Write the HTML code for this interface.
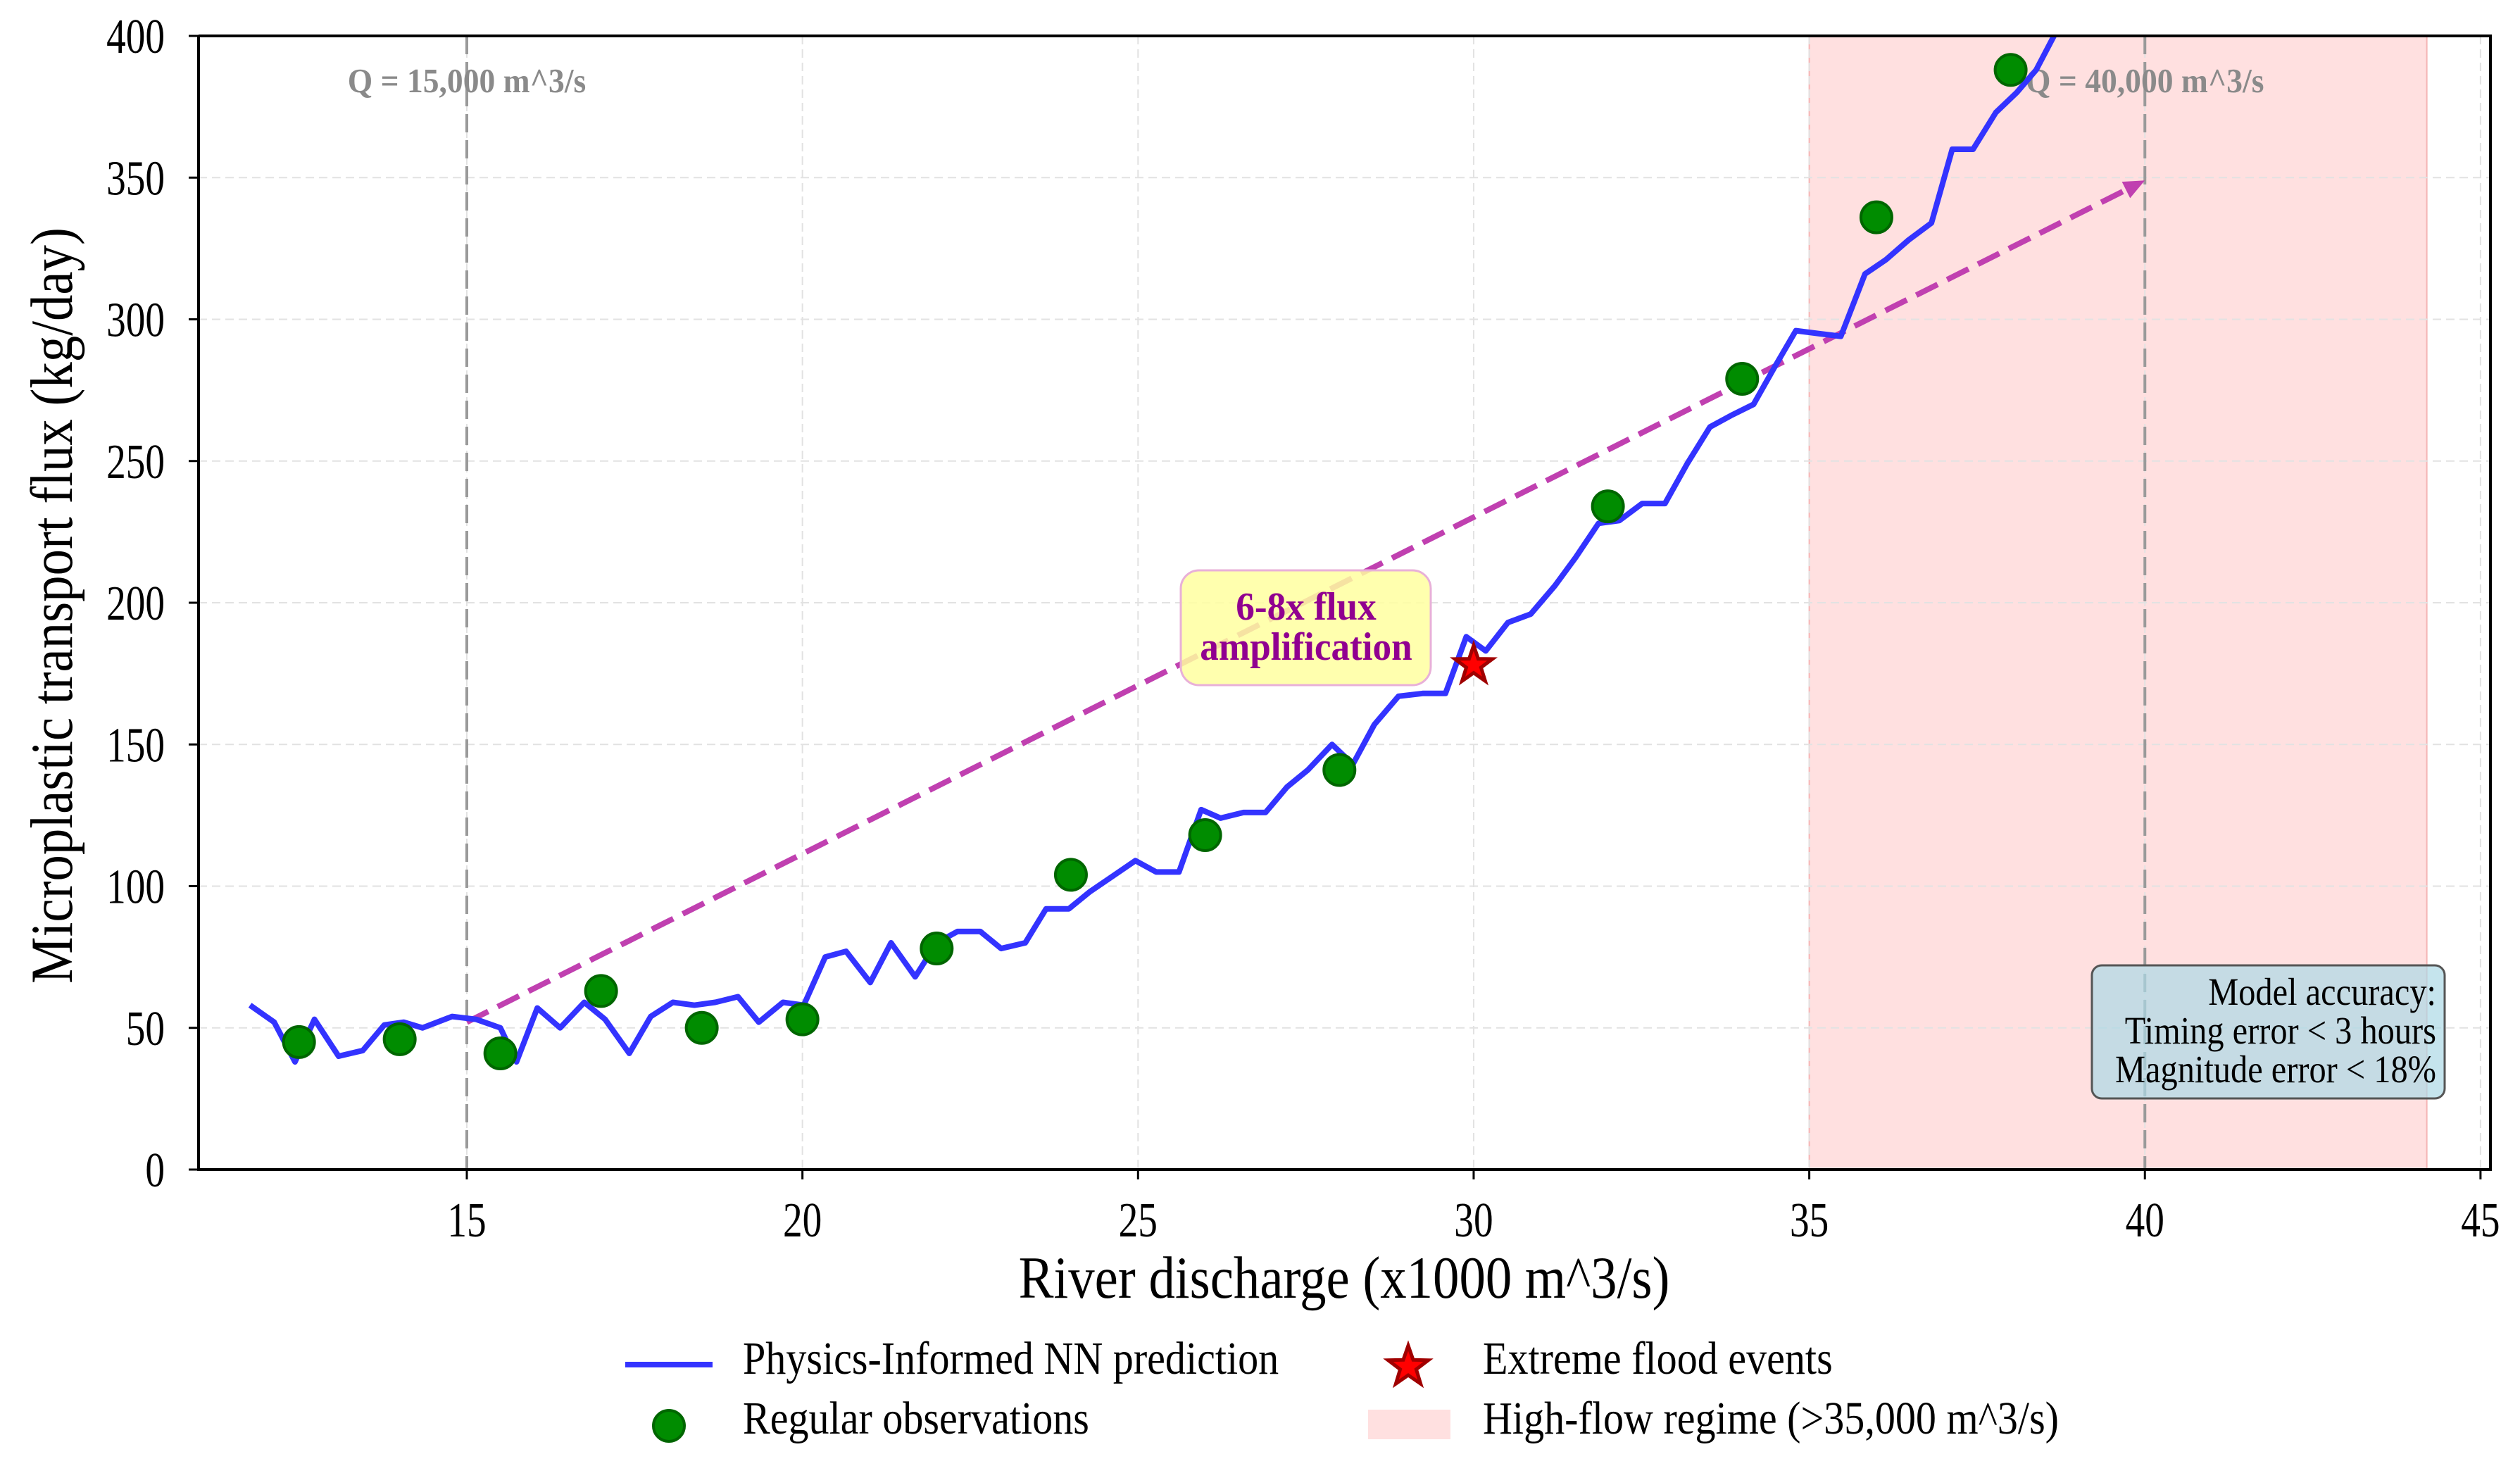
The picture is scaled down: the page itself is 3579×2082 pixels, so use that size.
<!DOCTYPE html>
<html><head><meta charset="utf-8"><style>
html,body{margin:0;padding:0;background:#fff;}
svg{display:block;font-family:"Liberation Serif",serif;}
</style></head><body>
<svg id="chart" width="3579" height="2082" viewBox="0 0 3579 2082" xmlns="http://www.w3.org/2000/svg">
<g id="layer"></g>
</svg>
<script>
const xTicks = [15, 20, 25, 30, 35, 40, 45];
const yTicks = [0, 50, 100, 150, 200, 250, 300, 350, 400];
const predX = [11.77,12.13,12.44,12.73,13.09,13.45,13.77,14.06,14.34,14.78,15.14,15.50,15.74,16.05,16.39,16.75,17.06,17.42,17.74,18.07,18.39,18.70,19.04,19.35,19.71,20.02,20.34,20.65,21.01,21.32,21.68,22.00,22.31,22.65,22.96,23.32,23.63,23.97,24.28,24.59,24.96,25.27,25.61,25.94,26.23,26.57,26.90,27.22,27.53,27.89,28.20,28.52,28.88,29.24,29.58,29.89,30.18,30.51,30.85,31.21,31.52,31.86,32.17,32.51,32.85,33.18,33.52,33.83,34.17,34.48,34.80,35.13,35.47,35.83,36.14,36.48,36.82,37.13,37.44,37.78,38.09,38.38,38.69];
const predY = [58,52,38,53,40,42,51,52,50,54,53,50,38,57,50,59,53,41,54,59,58,59,61,52,59,58,75,77,66,80,68,80,84,84,78,80,92,92,98,103,109,105,105,127,124,126,126,135,141,150,143,157,167,168,168,188,183,193,196,206,216,228,229,235,235,249,262,266,270,283,296,295,294,316,321,328,334,360,360,373,380,388,402];
const obsX = [12.5,14,15.5,17,18.5,20,22,24,26,28,32,34,36,38];
const obsY = [45,46,41,63,50,53,78,104,118,141,234,279,336,388];
const floodX = [30];
const floodY = [178];
const trendX = [15, 40];
const trendY = [52, 349];
const regimeRange = [35, 44.2];
const refLines = [15, 40];
const refLabels = ["Q = 15,000 m^3/s", "Q = 40,000 m^3/s"];

const L=282, R=3537, T=51, B=1661;
const X = v => 663 + (v-15)*95.33;
const Y = v => 1661 - v*4.025;
const NS="http://www.w3.org/2000/svg";
const layer=document.getElementById('layer');
function mk(tag, attrs, parent){const e=document.createElementNS(NS,tag);for(const k in attrs)e.setAttribute(k,attrs[k]);(parent||layer).appendChild(e);return e;}
function txt(str,x,y,size,sx,anchor,extra,parent){
  const a=Object.assign({x:0,y:0,'font-size':size,'text-anchor':anchor||'start',transform:`translate(${x},${y}) scale(${sx},1)`},extra||{});
  const t=mk('text',a,parent);t.textContent=str;return t;}

let sp=mk('rect',{x:X(regimeRange[0]),y:T,width:X(regimeRange[1])-X(regimeRange[0]),height:B-T,fill:'#ffe0e0',stroke:'#f5b5b5','stroke-width':2});


xTicks.forEach(t=>{let g=mk('line',{x1:X(t),x2:X(t),y1:T,y2:B,stroke:'#e2e2e2','stroke-width':2,'stroke-dasharray':'12 7'});

});
yTicks.forEach(t=>{let g=mk('line',{x1:L,x2:R,y1:Y(t),y2:Y(t),stroke:'#e2e2e2','stroke-width':2,'stroke-dasharray':'12 7'});

});
refLines.forEach((r,i)=>{let l=mk('line',{x1:X(r),x2:X(r),y1:T,y2:B,stroke:'#9a9a9a','stroke-width':4,'stroke-dasharray':'26 11'});


let t=txt(refLabels[i],X(r),131,49,0.93,'middle',{'font-weight':'bold',fill:'#8a8a8a'});

});
let x1=X(trendX[0]),y1=Y(trendY[0]),x2=X(trendX[1]),y2=Y(trendY[1]);
let ang=Math.atan2(y2-y1,x2-x1);
let ex=x2-30*Math.cos(ang), ey=y2-30*Math.sin(ang);
let ta=mk('line',{x1:x1,y1:y1,x2:ex,y2:ey,stroke:'#c040b0','stroke-width':8,'stroke-dasharray':'34 15'});


let w=13;
let ah=mk('polygon',{points:`${x2},${y2} ${ex+w*Math.sin(ang)},${ey-w*Math.cos(ang)} ${ex-w*Math.sin(ang)},${ey+w*Math.cos(ang)}`,fill:'#c040b0'});


let pts=predX.map((x,i)=>`${X(x)},${Y(Math.min(predY[i],410))}`).join(' ');
let cp=mk('clipPath',{id:'clip'});mk('rect',{x:L,y:T,width:R-L,height:B-T},cp);
let pl=mk('polyline',{points:pts,fill:'none',stroke:'#3333ff','stroke-width':8,'stroke-linejoin':'round','clip-path':'url(#clip)'});


obsX.forEach((x,i)=>{let c=mk('ellipse',{cx:X(x),cy:Y(obsY[i]),rx:22,ry:22,fill:'#008c00',stroke:'#006600','stroke-width':4});

});
function star(cx,cy,ro,ri){let p=[];for(let k=0;k<10;k++){let r=k%2?ri:ro;let a=-Math.PI/2+k*Math.PI/5;p.push(`${cx+r*Math.cos(a)},${cy+r*Math.sin(a)}`);}return p.join(' ');}
floodX.forEach((x,i)=>{let s=mk('polygon',{points:star(X(x),Y(floodY[i]),28,11),fill:'#ff0000',stroke:'#a00000','stroke-width':5});

});
let ab=mk('rect',{x:1677,y:810,width:355,height:163,rx:26,fill:'#ffffa0','fill-opacity':0.85,stroke:'#e8b0d8','stroke-width':3});


let ag=mk('g',{});


txt('6-8x flux',1855,880,56,0.95,'middle',{'font-weight':'bold',fill:'#900090'},ag);
txt('amplification',1855,937,56,0.95,'middle',{'font-weight':'bold',fill:'#900090'},ag);
let mb=mk('rect',{x:2971,y:1371,width:501,height:189,rx:14,fill:'#add8e6','fill-opacity':0.7,stroke:'#555','stroke-width':3});


let mg=mk('g',{});


[['Model accuracy:',1427],['Timing error < 3 hours',1482],['Magnitude error < 18%',1537]].forEach(a=>{txt(a[0],3460,a[1],55,0.88,'end',{},mg);});
let ax=mk('path',{d:`M${L},${T} V${B} H${R} V${T} H${L}`,fill:'none',stroke:'#000','stroke-width':4});


xTicks.forEach(t=>{mk('line',{x1:X(t),x2:X(t),y1:B,y2:B+14,stroke:'#000','stroke-width':3});
let tx=txt(String(t),X(t),B+95,70,0.79,'middle');

});
yTicks.forEach(t=>{mk('line',{x1:L-14,x2:L,y1:Y(t),y2:Y(t),stroke:'#000','stroke-width':3});
let tx=txt(String(t),L-48,Y(t)+24,70,0.79,'end');

});
let xl=txt('River discharge (x1000 m^3/s)',1909,1843,85,0.88,'middle');


let yl=mk('text',{x:0,y:0,'text-anchor':'middle','font-size':85,transform:'translate(102,860) rotate(-90) scale(0.88,1)'});yl.textContent='Microplastic transport flux (kg/day)';


let lg=mk('g',{});


mk('line',{x1:888,x2:1012,y1:1938,y2:1938,stroke:'#3333ff','stroke-width':8},lg);
mk('ellipse',{cx:950,cy:2025,rx:22,ry:22,fill:'#008c00',stroke:'#006600','stroke-width':4},lg);
mk('polygon',{points:star(2000,1941,30,12),fill:'#ff0000',stroke:'#a00000','stroke-width':5},lg);
mk('rect',{x:1943,y:2002,width:117,height:42,fill:'#ffe0e0'},lg);
[['Physics-Informed NN prediction',1055,1960],['Regular observations',1055,2045],['Extreme flood events',2106,1960],['High-flow regime (>35,000 m^3/s)',2106,2045]].forEach(a=>{
let t=txt(a[0],a[1],a[2]-9,66,0.88,'start',{},lg);

});
</script>
</body></html>
